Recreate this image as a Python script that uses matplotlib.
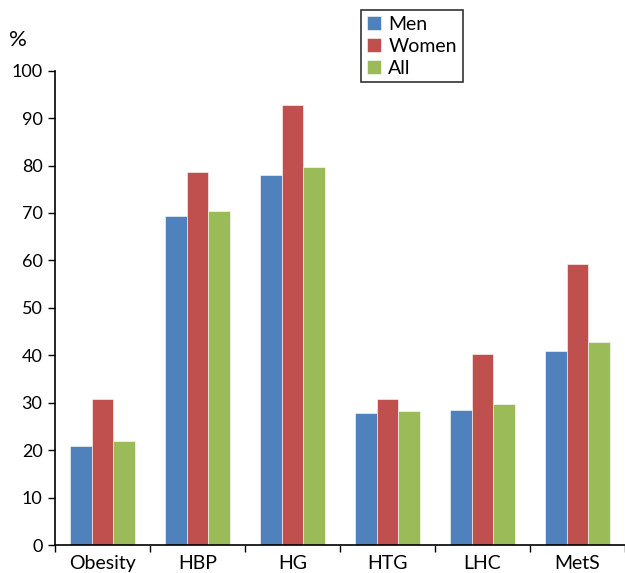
import matplotlib
matplotlib.use("Agg")
import matplotlib.pyplot as plt
import numpy as np

plt.rcParams['font.family'] = ['Lato', 'DejaVu Sans']

categories = ["Obesity", "HBP", "HG", "HTG", "LHC", "MetS"]
men = [20.9, 69.3, 78.0, 27.8, 28.4, 40.8]
women = [30.8, 78.6, 92.8, 30.8, 40.3, 59.3]
all_ = [21.9, 70.4, 79.8, 28.2, 29.7, 42.8]
series_names = ["Men", "Women", "All"]
colors = ["#4F81BD", "#C0504D", "#9BBB59"]

fig = plt.figure(figsize=(6.25, 5.73), dpi=100)
ax = fig.add_axes([55/625, 28/573, 570/625, 474.3/573])

x = np.arange(len(categories))
w = 0.225
for i, (vals, name, c) in enumerate(zip([men, women, all_], series_names, colors)):
    ax.bar(x + (i - 1) * w, vals, width=w, color=c, label=name,
           edgecolor="white", linewidth=0.4)

ax.set_xlim(-0.5, len(categories) - 0.5)
ax.set_ylim(0, 100)
ax.set_yticks(np.arange(0, 101, 10))
ax.set_xticks(x)
ax.set_xticklabels(categories)
ax.set_xticks(np.arange(-0.5, len(categories) - 0.4, 1), minor=True)
ax.tick_params(axis='x', which='major', length=0, labelsize=14, pad=7)
ax.tick_params(axis='x', which='minor', length=5, direction='out', width=1)
ax.tick_params(axis='y', length=5, direction='out', width=1, labelsize=13, pad=4)
ax.spines['top'].set_visible(False)
ax.spines['right'].set_visible(False)
for s in ['left', 'bottom']:
    ax.spines[s].set_linewidth(1.2)
    ax.spines[s].set_color('black')

fig.text(9/625, 1 - 40/573, "%", fontsize=16, va='center', ha='left')

leg = fig.legend(loc='upper left', bbox_to_anchor=(361/625, 1 - 10/573),
                 frameon=True, fancybox=False, fontsize=14,
                 handlelength=0.75, handleheight=0.75, handletextpad=0.35,
                 labelspacing=0.25, borderpad=0.3, borderaxespad=0)
leg.get_frame().set_edgecolor('black')
leg.get_frame().set_linewidth(1.2)

fig.savefig("out.png", dpi=100)
